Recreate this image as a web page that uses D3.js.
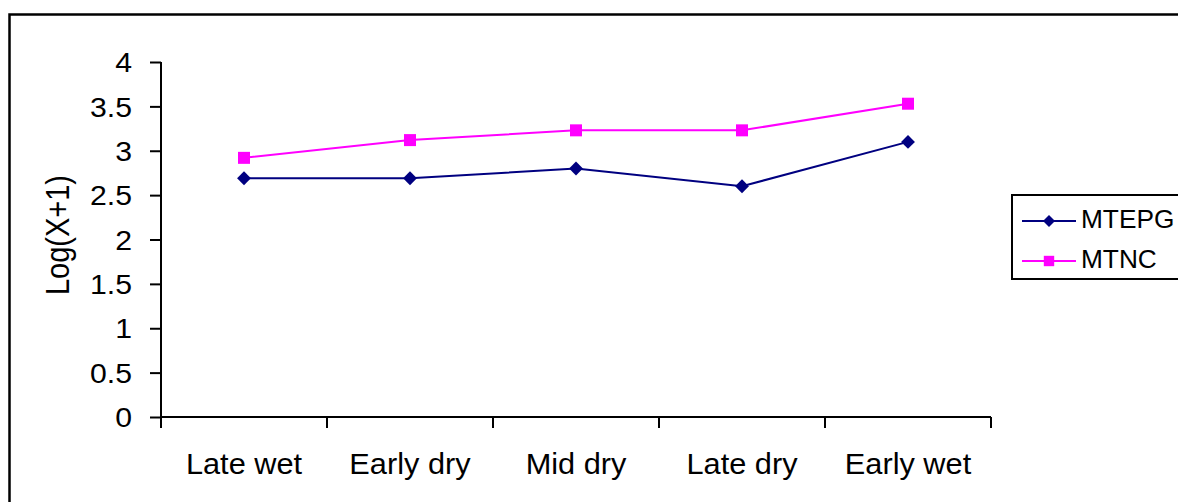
<!DOCTYPE html>
<html>
<head>
<meta charset="utf-8">
<script src="https://cdn.jsdelivr.net/npm/d3@7"></script>
<style>
  body { margin: 0; background: #fff; }
  svg { display: block; font-family: "Liberation Sans", Arial, sans-serif; }
</style>
</head>
<body>
<div id="chart"></div>
<script>
// Seasons along the x axis.
var seasons = ['Late wet', 'Early dry', 'Mid dry', 'Late dry', 'Early wet'];

// Log(X+1) values per season.
var mtepg = [2.69, 2.69, 2.8, 2.6, 3.1];
var mtnc = [2.92, 3.12, 3.23, 3.23, 3.53];

var yTicks = [0, 0.5, 1, 1.5, 2, 2.5, 3, 3.5, 4];

(function (d3) {
    'use strict';

    var W = 1178, H = 502;
    var margin = {top: 62, left: 161};
    var width = 830;
    var height = 355;

    // The original picture is a bit wider than tall, so text is stretched.
    var stretch = 1.12;

    var svg = d3.select('#chart').append('svg')
        .attr('width', W)
        .attr('height', H);

    // Outer chart frame, cut by the picture edge on right and bottom.
    svg.append('rect')
        .attr('x', 9.5).attr('y', 14.5)
        .attr('width', W + 20).attr('height', H + 20)
        .attr('fill', 'none')
        .attr('stroke', '#000')
        .attr('stroke-width', 2.5);

    var vis = svg.append('g')
        .attr('transform', 'translate(' + margin.left + ',' + margin.top + ')');

    var x = d3.scaleBand().domain(seasons).range([0, width]);
    var y = d3.scaleLinear().domain([0, 4]).range([height, 0]);

    // Y axis
    var yAxis = vis.append('g')
        .call(d3.axisLeft(y).tickValues(yTicks).tickFormat(d3.format('')).tickSize(11));
    yAxis.select('.domain').attr('stroke-width', 2).attr('d', 'M0,0V' + height);
    yAxis.selectAll('.tick line').attr('stroke-width', 2);
    yAxis.selectAll('.tick text')
        .attr('font-size', 27)
        .attr('fill', '#000')
        .attr('x', -29 / stretch)
        .attr('dy', '0.36em')
        .attr('transform', 'scale(' + stretch + ',1)');

    // X axis, ticks at category edges
    var xAxis = vis.append('g')
        .attr('transform', 'translate(0,' + height + ')');
    xAxis.append('line')
        .attr('x1', 0).attr('x2', width)
        .attr('stroke', '#000').attr('stroke-width', 2);
    xAxis.selectAll('line.tk')
        .data(d3.range(seasons.length + 1))
        .enter().append('line')
        .attr('class', 'tk')
        .attr('x1', function (i) { return i * x.step(); })
        .attr('x2', function (i) { return i * x.step(); })
        .attr('y1', 0).attr('y2', 11)
        .attr('stroke', '#000').attr('stroke-width', 2);
    xAxis.selectAll('text')
        .data(seasons)
        .enter().append('text')
        .attr('transform', function (d) {
            return 'translate(' + (x(d) + x.bandwidth() / 2) + ',57) scale(1.06,1)';
        })
        .attr('text-anchor', 'middle')
        .attr('font-size', 29)
        .text(function (d) { return d; });

    // Y axis title
    svg.append('text')
        .attr('transform', 'translate(69,235) scale(' + stretch + ',1) rotate(-90)')
        .attr('text-anchor', 'middle')
        .attr('font-size', 29)
        .text('Log(X+1)');

    var line = d3.line()
        .x(function (d, i) { return x(seasons[i]) + x.bandwidth() / 2; })
        .y(function (d) { return y(d); });

    var series = [
        {name: 'MTEPG', values: mtepg, color: '#000080', rot: 45, size: 96},
        {name: 'MTNC', values: mtnc, color: '#FF00FF', rot: 0, size: 144}
    ];

    series.forEach(function (s) {
        vis.append('path')
            .datum(s.values)
            .attr('fill', 'none')
            .attr('stroke', s.color)
            .attr('stroke-width', 2)
            .attr('d', line);

        vis.selectAll(null)
            .data(s.values)
            .enter().append('path')
            .attr('transform', function (d, i) {
                return 'translate(' + line.x()(d, i) + ',' + y(d) + ') rotate(' + s.rot + ')';
            })
            .attr('fill', s.color)
            .attr('d', d3.symbol().type(d3.symbolSquare).size(s.size));
    });

    // Legend
    var legend = svg.append('g');
    legend.append('rect')
        .attr('x', 1012).attr('y', 195)
        .attr('width', 200).attr('height', 84)
        .attr('fill', '#fff')
        .attr('stroke', '#000').attr('stroke-width', 2);

    series.forEach(function (s, i) {
        var ly = 221 + i * 40;
        legend.append('line')
            .attr('x1', 1022).attr('x2', 1076)
            .attr('y1', ly).attr('y2', ly)
            .attr('stroke', s.color).attr('stroke-width', 2);
        legend.append('path')
            .attr('transform', 'translate(1049,' + ly + ') rotate(' + s.rot + ')')
            .attr('fill', s.color)
            .attr('d', d3.symbol().type(d3.symbolSquare).size(s.size * 0.75));
        legend.append('text')
            .attr('transform', 'translate(1081,' + (ly + 7) + ') scale(1.05,1)')
            .attr('font-size', 25)
            .text(s.name);
    });

})(d3);
</script>
</body>
</html>
